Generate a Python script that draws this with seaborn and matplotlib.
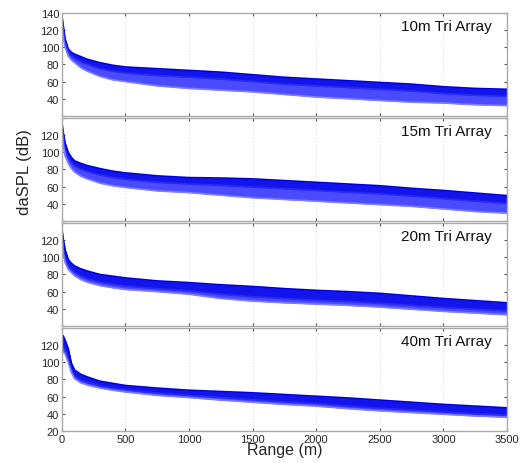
import numpy as np
import pandas as pd
import seaborn as sns
import matplotlib.pyplot as plt

# range samples (m)
rng = [0, 10, 25, 50, 75, 100, 150, 200, 300, 400, 500, 750, 1000,
       1250, 1500, 1750, 2000, 2250, 2500, 2750, 3000, 3250, 3500]

arrays = ["10m Tri Array", "15m Tri Array", "20m Tri Array", "40m Tri Array"]

# band edges (dB)
upper_10 = [137, 126, 110, 98, 94, 92, 89, 86, 82, 79, 77, 75, 73, 71, 68, 65, 63, 61, 59, 57, 54, 52, 51]
mid_10 = [133, 120, 106, 95, 90, 87, 83, 80, 75, 72, 70, 67, 65, 63, 60, 57, 55, 53, 51, 49, 46, 44, 43]
lower_10 = [127, 112, 100, 90, 85, 82, 76, 72, 66, 62, 60, 55, 52, 50, 48, 45, 42, 40, 38, 36, 35, 33, 32]

upper_15 = [135, 124, 111, 100, 94, 90, 87, 84.5, 81, 78, 76, 72.5, 70.5, 70, 69, 67, 65, 63, 61, 58, 55.5, 52.5, 49.5]
mid_15 = [131, 118, 104, 94, 88, 84, 80, 77.5, 73.5, 70.5, 68.5, 65, 63, 61.5, 59.5, 57.5, 55.5, 53.5, 51.5, 49, 46, 43, 40.5]
lower_15 = [126, 110, 96, 87, 81, 77, 72, 69, 64, 61, 59, 55, 53, 50, 47, 45, 43, 41, 39, 37, 34, 31, 29]

upper_20 = [134, 122, 109, 97.5, 93, 90, 86.5, 84, 80, 78, 76, 72.5, 70.5, 68, 66, 63.5, 61.5, 60, 58, 55, 52, 49.5, 47]
mid_20 = [128, 112, 99, 90, 86, 82.5, 78, 75, 71, 68.5, 66.5, 63.5, 61, 57, 54, 52, 50, 48.5, 46.5, 44, 41.5, 39.5, 37.5]
lower_20 = [124, 106, 94, 86, 82, 78.5, 74, 71, 67, 64.5, 62.5, 60, 57, 52, 49, 47, 45.5, 44, 42, 39.5, 37, 35, 33]

upper_40 = [129, 131, 126, 116, 99, 91, 86, 83, 78, 75.5, 73, 70, 67.5, 66, 64.5, 62.5, 60.5, 58.5, 56, 53.5, 51, 49, 47]
mid_40 = [118, 118, 115, 104, 91, 84, 79, 76.5, 72.5, 70, 68, 64, 61.5, 59, 56.5, 54, 52, 49, 46.5, 44.5, 42, 40, 38.5]
lower_40 = [113, 112, 110, 100, 88, 81, 76, 73.5, 70, 67.5, 65.5, 61.5, 59, 56, 53.5, 51, 49, 46, 43.5, 41.5, 39.5, 37.5, 36]

bands = [(upper_10, mid_10, lower_10), (upper_15, mid_15, lower_15),
         (upper_20, mid_20, lower_20), (upper_40, mid_40, lower_40)]

sns.set_style("white")
plt.rcParams["font.family"] = ["Liberation Sans", "DejaVu Sans"]
plt.rcParams["xtick.direction"] = "in"
plt.rcParams["ytick.direction"] = "in"

fig, axes = plt.subplots(4, 1, sharex=True, figsize=(5.2, 4.64), dpi=100)
fig.subplots_adjust(left=0.119, right=0.975, top=0.970, bottom=0.069, hspace=0.02)

for i, ax in enumerate(axes):
    up, mid, low = bands[i]
    df = pd.DataFrame({"Range": rng * 3,
                       "SPL": up + mid + low,
                       "edge": ["upper"] * len(rng) + ["mid"] * len(rng) + ["lower"] * len(rng)})
    # whole band in a lighter blue, dense upper part darker
    ax.fill_between(rng, up, low, color="#4a4aff", lw=0)
    ax.fill_between(rng, up, mid, color="#1414ec", lw=0)
    sns.lineplot(data=df, x="Range", y="SPL", hue="edge",
                 palette={"upper": "#0000dc", "mid": "#2a2af5", "lower": "#7d7dff"},
                 lw=1.2, legend=False, ax=ax)
    ax.set_xlim(0, 3500)
    ax.set_ylim(20, 140)
    ax.set_yticks(range(20, 141, 20))
    if i == 0:
        labels = ["", "40", "60", "80", "100", "120", "140"]
    elif i == 3:
        labels = ["20", "40", "60", "80", "100", "120", ""]
    else:
        labels = ["", "40", "60", "80", "100", "120", ""]
    ax.set_yticklabels(labels)
    ax.set_xticks(range(0, 3501, 500))
    ax.grid(axis="x", color="#dddddd", ls=":", lw=0.8)
    ax.tick_params(labelsize=8, length=2.5, color="#555555", top=True, right=True,
                   left=True, bottom=True, pad=2)
    for s in ax.spines.values():
        s.set_color("#aaaaaa")
        s.set_linewidth(1.0)
    ax.set_xlabel("")
    ax.set_ylabel("")
    ax.text(0.965, 0.87, arrays[i], transform=ax.transAxes, ha="right", va="center",
            fontsize=11, color="#111111")

axes[-1].set_xlabel("Range (m)", fontsize=11.5, labelpad=-1)
fig.text(0.047, 0.629, "daSPL (dB)", rotation=90, ha="center", va="center", fontsize=12)

fig.savefig("out.png", dpi=100)
